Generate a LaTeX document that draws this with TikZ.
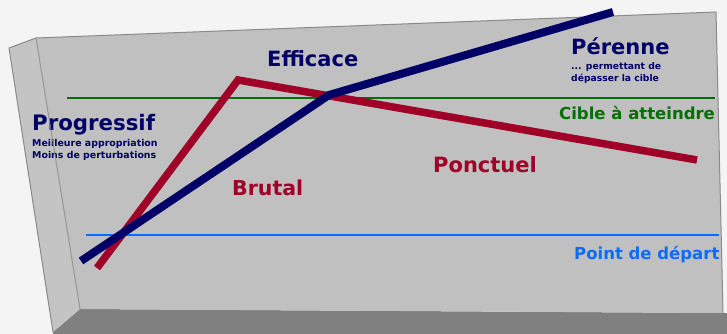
\documentclass[tikz,border=0pt]{standalone}
\usepackage{fontspec}
\setmainfont{DejaVu Sans}
\begin{document}
\begin{tikzpicture}[x=1pt,y=-1pt,
  lbl/.style={inner sep=0pt,anchor=base west,font=\bfseries},
  edge/.style={draw=edgegrey,line width=1pt,line join=round},
  curve/.style={line width=7.5pt,line join=miter}]
\definecolor{bg}{HTML}{F4F4F4}
\definecolor{board}{HTML}{C0C0C0}
\definecolor{boardside}{HTML}{C4C4C4}
\definecolor{boardbottom}{HTML}{808080}
\definecolor{edgegrey}{HTML}{8A8A8A}
\definecolor{navy}{HTML}{000066}
\definecolor{crimson}{HTML}{A00028}
\definecolor{target}{HTML}{007000}
\definecolor{start}{HTML}{0A6CFF}

% canvas
\fill[bg] (0,0) rectangle (727,334);
\useasboundingbox (0,0) rectangle (727,334);

% board corners
\coordinate (sideTop) at (9,48);
\coordinate (frontTL) at (36,38);
\coordinate (frontTR) at (716,12);
\coordinate (frontBR) at (723,313);
\coordinate (frontBL) at (80,309);
\coordinate (sideBot) at (53,332);

% board faces
\fill[boardbottom] (sideBot) -- (frontBL) -- (frontBR) -- (730,313) -- (730,336) -- (53,336) -- cycle;
\fill[boardside] (sideTop) -- (frontTL) -- (frontBL) -- (sideBot) -- cycle;
\fill[board] (frontTL) -- (frontTR) -- (frontBR) -- (frontBL) -- cycle;
\draw[edge] (sideBot) -- (sideTop) -- (frontTL) -- (frontTR) -- (frontBR);

% reference levels
\coordinate (targetL) at (67,98);
\coordinate (targetR) at (715,98);
\coordinate (startL) at (86,235);
\coordinate (startR) at (719,235);
\draw[target,line width=2pt] (targetL) -- (targetR);
\draw[start,line width=2.5pt] (startL) -- (startR);

% brutal / punctual path
\coordinate (r0) at (97,268);
\coordinate (r1) at (238,80);
\coordinate (r2) at (697,160);
\draw[curve,crimson] (r0) -- (r1) -- (r2);

% progressive / lasting path
\coordinate (b0) at (81,261);
\coordinate (b1) at (329,95);
\coordinate (b2) at (613,12);
\draw[curve,navy,line width=8pt] (b0) -- (b1) -- (b2);

% labels
\node[lbl,text=navy,font=\bfseries\fontsize{21.3}{24}\selectfont] (progressif) at (32,130) {Progressif};
\node[lbl,text=navy,font=\bfseries\fontsize{9.4}{12}\selectfont] (appropriation) at (32,146.5) {Meilleure appropriation};
\node[lbl,text=navy,font=\bfseries\fontsize{9.4}{12}\selectfont] (perturbations) at (32,158.5) {Moins de perturbations};
\node[lbl,text=navy,font=\bfseries\fontsize{21}{24}\selectfont] (efficace) at (267,66.5) {Efficace};
\node[lbl,text=navy,font=\bfseries\fontsize{21}{24}\selectfont] (perenne) at (571,55) {Pérenne};
\node[lbl,text=navy,font=\bfseries\fontsize{9.2}{12}\selectfont] (permettant) at (571,70) {... permettant de};
\node[lbl,text=navy,font=\bfseries\fontsize{9.2}{12}\selectfont] (depasser) at (571,82) {dépasser la cible};
\node[lbl,text=target,font=\bfseries\fontsize{16.5}{20}\selectfont] (cible) at (559,119) {Cible à atteindre};
\node[lbl,text=start,font=\bfseries\fontsize{16.5}{20}\selectfont] (depart) at (574,259) {Point de départ};
\node[lbl,text=crimson,font=\bfseries\fontsize{20.5}{24}\selectfont] (brutal) at (232,195.5) {Brutal};
\node[lbl,text=crimson,font=\bfseries\fontsize{21}{24}\selectfont] (ponctuel) at (433,172) {Ponctuel};

% fold between side and front face, seen through the title
\draw[edge,draw opacity=0.8] (frontTL) -- (frontBL);
\end{tikzpicture}
\end{document}
